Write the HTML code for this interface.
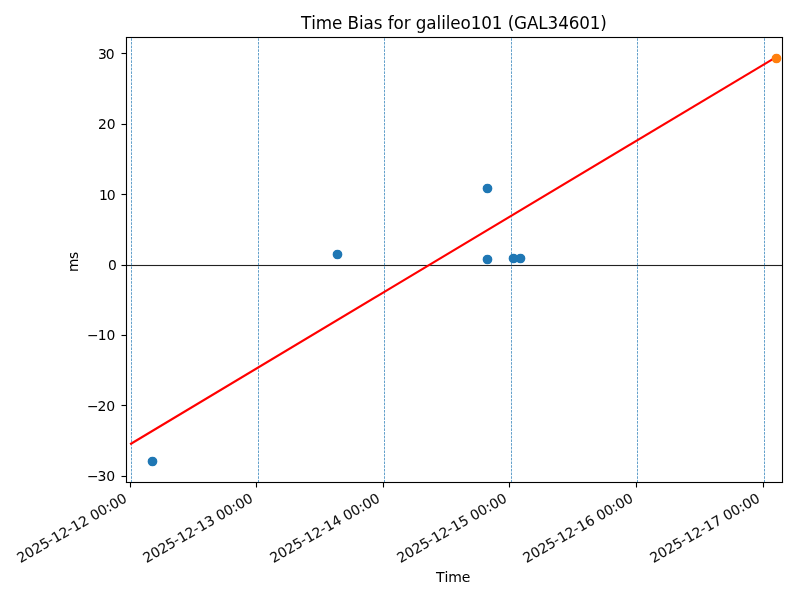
<!DOCTYPE html>
<html><head><meta charset="utf-8"><title>Time Bias for galileo101 (GAL34601)</title>
<style>html,body{margin:0;padding:0;background:#fff;}body{width:800px;height:600px;overflow:hidden;position:relative;}svg{display:block;}.g{will-change:transform;}.ms{position:absolute;left:66.6px;top:251.9px;font-family:'DejaVu Sans','Liberation Sans',sans-serif;font-size:13.75px;letter-spacing:-0.25px;line-height:1;writing-mode:sideways-lr;white-space:nowrap;color:#000;will-change:transform;}@supports not (writing-mode:sideways-lr){.ms{writing-mode:vertical-rl;transform:rotate(180deg);}}text{font-family:'DejaVu Sans','Liberation Sans',sans-serif;}</style></head><body>
<svg width="800" height="600" viewBox="0 0 800 600">
<rect x="0" y="0" width="800" height="600" fill="#fff"/>
<g class="g" fill="#000">
<circle cx="152.5" cy="461.5" r="4.167" fill="#1f77b4" stroke="#1f77b4" stroke-width="1.389"/>
<circle cx="337.5" cy="254.5" r="4.167" fill="#1f77b4" stroke="#1f77b4" stroke-width="1.389"/>
<circle cx="487.5" cy="188.5" r="4.167" fill="#1f77b4" stroke="#1f77b4" stroke-width="1.389"/>
<circle cx="487.5" cy="259.5" r="4.167" fill="#1f77b4" stroke="#1f77b4" stroke-width="1.389"/>
<circle cx="513.5" cy="258.5" r="4.167" fill="#1f77b4" stroke="#1f77b4" stroke-width="1.389"/>
<circle cx="520.5" cy="258.5" r="4.167" fill="#1f77b4" stroke="#1f77b4" stroke-width="1.389"/>
<rect x="126.5" y="264.944" width="656.0" height="1.111" fill="#222"/>
<line x1="131.5" y1="482.5" x2="131.5" y2="37.5" stroke="#1f77b4" stroke-width="0.694" stroke-dasharray="2.5694 1.1111"/>
<line x1="258.5" y1="482.5" x2="258.5" y2="37.5" stroke="#1f77b4" stroke-width="0.694" stroke-dasharray="2.5694 1.1111"/>
<line x1="384.5" y1="482.5" x2="384.5" y2="37.5" stroke="#1f77b4" stroke-width="0.694" stroke-dasharray="2.5694 1.1111"/>
<line x1="511.5" y1="482.5" x2="511.5" y2="37.5" stroke="#1f77b4" stroke-width="0.694" stroke-dasharray="2.5694 1.1111"/>
<line x1="637.5" y1="482.5" x2="637.5" y2="37.5" stroke="#1f77b4" stroke-width="0.694" stroke-dasharray="2.5694 1.1111"/>
<line x1="764.5" y1="482.5" x2="764.5" y2="37.5" stroke="#1f77b4" stroke-width="0.694" stroke-dasharray="2.5694 1.1111"/>
<line x1="131.0" y1="443.71" x2="776.5" y2="56.87" stroke="#ff0000" stroke-width="2.083" stroke-linecap="square"/>
<path d="M126.5 483.056 L126.5 36.944 M782.5 483.056 L782.5 36.944" stroke="#000" stroke-width="1.111" fill="none"/>
<rect x="125.944" y="36.944" width="657.111" height="1.111" fill="#000"/>
<rect x="125.944" y="481.944" width="657.111" height="1.111" fill="#000"/>
<path d="M130.5 482.5 L130.5 487.5 M256.5 482.5 L256.5 487.5 M383.5 482.5 L383.5 487.5 M509.5 482.5 L509.5 487.5 M636.5 482.5 L636.5 487.5 M763.5 482.5 L763.5 487.5" stroke="#000" stroke-width="1.111" fill="none"/>
<rect x="121.5" y="52.944" width="5" height="1.111" fill="#000"/>
<rect x="121.5" y="123.944" width="5" height="1.111" fill="#000"/>
<rect x="121.5" y="193.944" width="5" height="1.111" fill="#000"/>
<rect x="121.5" y="264.944" width="5" height="1.111" fill="#000"/>
<rect x="121.5" y="334.944" width="5" height="1.111" fill="#000"/>
<rect x="121.5" y="404.944" width="5" height="1.111" fill="#000"/>
<rect x="121.5" y="475.944" width="5" height="1.111" fill="#000"/>
<circle cx="776.5" cy="58.5" r="4.167" fill="#ff7f0e" stroke="#ff7f0e" stroke-width="1.389"/>
<text font-size="13.889" fill="#111" stroke="#000" stroke-width="0.5" stroke-opacity="0.2" transform="translate(20.500 563.230) rotate(-30)" x="0.00 8.75 17.50 26.25 34.75 39.88 48.75 57.25 62.38 71.25 80.00 84.38 93.12 101.88 106.50 115.25" y="0.00 0.00 0.00 0.00 -0.75 0.00 0.25 -0.75 0.00 0.25 0.00 0.00 -0.25 0.00 0.00 0.00">2025-12-12 00:00</text>
<text font-size="13.889" fill="#111" stroke="#000" stroke-width="0.5" stroke-opacity="0.2" transform="translate(146.500 563.230) rotate(-30)" x="0.00 8.75 17.50 26.25 34.75 39.88 48.75 57.25 62.38 71.25 80.00 84.38 93.12 101.88 106.50 115.25" y="0.00 0.00 0.00 0.00 -0.75 0.00 0.25 -0.75 0.00 0.00 0.00 0.00 -0.25 0.00 0.00 0.00">2025-12-13 00:00</text>
<text font-size="13.889" fill="#111" stroke="#000" stroke-width="0.5" stroke-opacity="0.2" transform="translate(273.500 563.230) rotate(-30)" x="0.00 8.75 17.50 26.25 34.75 39.88 48.75 57.25 62.38 71.25 80.00 84.38 93.12 101.88 106.50 115.25" y="0.00 0.00 0.00 0.00 -0.75 0.00 0.25 -0.75 0.00 -0.50 0.00 0.00 -0.25 0.00 0.00 0.00">2025-12-14 00:00</text>
<text font-size="13.889" fill="#111" stroke="#000" stroke-width="0.5" stroke-opacity="0.2" transform="translate(400.500 563.230) rotate(-30)" x="0.00 8.75 17.50 26.25 34.75 39.88 48.75 57.25 62.38 71.25 80.00 84.38 93.12 101.88 106.50 115.25" y="0.00 0.00 0.00 0.00 -0.75 0.00 0.25 -0.75 0.00 0.00 0.00 0.00 -0.25 0.00 0.00 0.00">2025-12-15 00:00</text>
<text font-size="13.889" fill="#111" stroke="#000" stroke-width="0.5" stroke-opacity="0.2" transform="translate(526.500 563.230) rotate(-30)" x="0.00 8.75 17.50 26.25 34.75 39.88 48.75 57.25 62.38 71.25 80.12 84.50 93.25 102.00 106.62 115.38" y="0.00 0.00 0.00 0.00 -0.75 0.00 0.25 -0.75 0.00 0.00 0.00 0.00 0.00 0.00 -0.25 0.00">2025-12-16 00:00</text>
<text font-size="13.889" fill="#111" stroke="#000" stroke-width="0.5" stroke-opacity="0.2" transform="translate(653.500 563.230) rotate(-30)" x="0.00 8.75 17.50 26.25 34.75 39.88 48.75 57.25 62.38 71.25 80.00 84.38 93.12 101.88 106.50 115.25" y="0.00 0.00 0.00 0.00 -0.75 0.00 0.25 -0.75 0.00 0.00 0.00 0.00 -0.25 0.00 0.00 0.00">2025-12-17 00:00</text>
<text font-size="13.889" x="97.88 105.63" y="58.68 58.68">30</text>
<text font-size="13.889" x="97.88 106.63" y="129.08 129.08">20</text>
<text font-size="14.0" x="98.88 106.63" y="199.73 199.98">10</text>
<text font-size="13.889" x="107.88" y="269.88">0</text>
<text font-size="13.889" x="86.88 97.75 106.38" y="340.28 339.78 340.28">−10</text>
<text font-size="14.0" x="87.00 97.38 106.13" y="410.68 410.68 410.68">−20</text>
<text font-size="14.0" x="87.00 97.38 106.13" y="481.08 481.08 481.08">−30</text>
<text font-size="14.0" x="435.91 444.41 448.29 461.79" y="581.590">Time</text>
<text font-size="16.8" x="300.91 311.16 315.79 332.04 342.29 347.54 358.91 363.54 373.66 382.41 387.66 393.54 403.66 410.54 415.79 426.29 436.41 441.29 445.66 450.29 460.54 470.66 481.29 491.79 502.41 507.66 514.04 526.91 538.29 547.54 558.16 568.66 579.16 589.66 600.29" y="28.997">Time Bias for galileo101 (GAL34601)</text>
</g></svg>
<div class="ms">ms</div>
</body></html>
